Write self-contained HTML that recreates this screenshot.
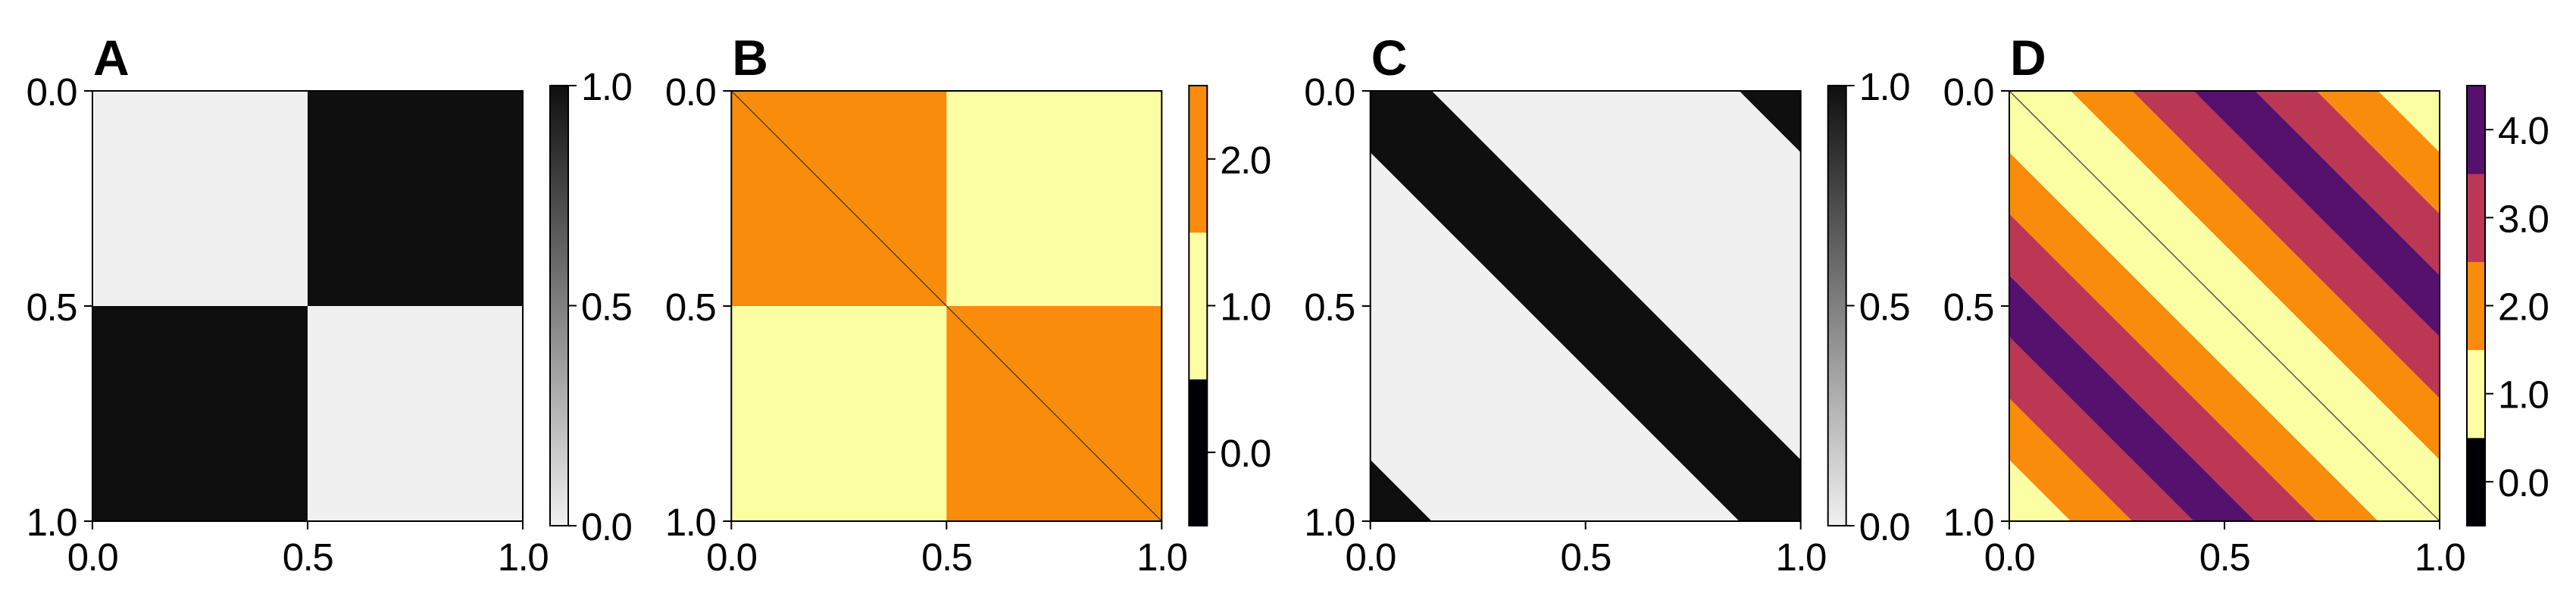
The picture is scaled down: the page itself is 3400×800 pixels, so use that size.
<!DOCTYPE html>
<html><head><meta charset="utf-8">
<style>
html,body{margin:0;padding:0;background:#fff;width:3400px;height:800px;overflow:hidden;}
svg{display:block;}
text{font-family:"Liberation Sans",Arial,sans-serif;}
</style></head>
<body>
<svg id="fig" xmlns="http://www.w3.org/2000/svg" width="3400" height="800" viewBox="0 0 3400 800"></svg>
<script>
// ---- data ----
const matrixA = [[0,1],[1,0]];
const matrixB = [[2,1],[1,2]];
const bandEdgesC = [-1,-6/7,-1/7,1/7,6/7,1];
const bandValuesC = [1,0,1,0,1];
const bandEdgesD = [-1,-6/7,-5/7,-4/7,-3/7,-2/7,-1/7,1/7,2/7,3/7,4/7,5/7,6/7,1];
const bandValuesD = [1,2,3,4,3,2,1,2,3,4,3,2,1];
const axisTicks = [0,0.5,1];
const axisTickLabels = ["0.0","0.5","1.0"];
const greyTicks = [0,0.5,1];
const greyTickLabels = ["0.0","0.5","1.0"];
const catTicksB = [0,1,2];
const catTickLabelsB = ["0.0","1.0","2.0"];
const catTicksD = [0,1,2,3,4];
const catTickLabelsD = ["0.0","1.0","2.0","3.0","4.0"];
const panelLabels = ["A","B","C","D"];

const NS="http://www.w3.org/2000/svg";
const svg=document.getElementById('fig');
function mk(tag,attrs,parent){const e=document.createElementNS(NS,tag);for(const k in attrs)e.setAttribute(k,attrs[k]);(parent||svg).appendChild(e);return e;}

const catColors=["#000004","#fcfea4","#f98c0a","#bc3754","#56106e"];
function greyColor(v){const c=Math.round(240-(240-15)*v);return `rgb(${c},${c},${c})`;}

const TOP=120,SIZE=568,CB_OFF=604,CB_W=24,CB_TOP=113,CB_BOT=694;
const lefts=[122,965.3,1808.7,2652];
const FS=51, LS=-1.5;

function panel(i){
  const L=lefts[i];
  const g=mk('g',{});
  
  
  const sx=v=>L+v*SIZE, sy=v=>TOP+v*SIZE;
  const clip=mk('clipPath',{id:'clip'+i},g);
  mk('rect',{x:L,y:TOP,width:SIZE,height:SIZE},clip);
  const hm=mk('g',{'clip-path':`url(#clip${i})`},g);
  
  
  if(i===0||i===1){
    const M=i===0?matrixA:matrixB;const n=M.length;
    M.forEach((row,r)=>row.forEach((v,c)=>{
      const rc=mk('rect',{x:sx(c/n),y:sy(r/n),width:SIZE/n+0.5,height:SIZE/n+0.5,fill:i===0?greyColor(v):catColors[v]},hm);
      
      
    }));
  } else {
    const E=i===2?bandEdgesC:bandEdgesD, V=i===2?bandValuesC:bandValuesD;
    V.forEach((v,k)=>{
      const d0=E[k],d1=E[k+1];
      const pts=[[-1+d0,-1],[2+d0,2],[2+d1,2],[-1+d1,-1]].map(p=>sx(p[0])+','+sy(p[1])).join(' ');
      const pg=mk('polygon',{points:pts,fill:i===2?greyColor(v):catColors[v]},hm);
      
      
    });
  }
  if(i===1||i===3){
    const dl=mk('line',{x1:sx(0),y1:sy(0),x2:sx(1),y2:sy(1),stroke:'#333',"stroke-width":1.2},g);
    
    
  }
  const fr=mk('rect',{x:L,y:TOP,width:SIZE,height:SIZE,fill:'none',stroke:'#000','stroke-width':2},g);
  
  
  axisTicks.forEach((t,k)=>{
    mk('line',{x1:sx(t),x2:sx(t),y1:TOP+SIZE,y2:TOP+SIZE+11,stroke:'#000','stroke-width':2},g);
    const xt=mk('text',{x:sx(t),y:753,'font-size':FS,'letter-spacing':LS,'text-anchor':'middle'},g);
    xt.textContent=axisTickLabels[k];
    
    
    mk('line',{x1:L-11,x2:L,y1:sy(t),y2:sy(t),stroke:'#000','stroke-width':2},g);
    const yt=mk('text',{x:L-21,y:sy(t)+19,'font-size':FS,'letter-spacing':LS,'text-anchor':'end'},g);
    yt.textContent=axisTickLabels[k];
    
    
  });
  const pl=mk('text',{x:L+1,y:99,'font-size':66,'font-weight':'bold'},g);
  pl.textContent=panelLabels[i];
  
  
  // colorbar
  const cx=L+CB_OFF;
  const cb=mk('g',{},g);
  
  
  let lo,hi,ticks,labels;
  if(i===0||i===2){
    lo=0;hi=1;ticks=greyTicks;labels=greyTickLabels;
    const gid='grad'+i;
    const lg=mk('linearGradient',{id:gid,x1:0,y1:1,x2:0,y2:0},cb);
    for(let s=0;s<=10;s++)mk('stop',{offset:s/10,'stop-color':greyColor(s/10)},lg);
    mk('rect',{x:cx,y:CB_TOP,width:CB_W,height:CB_BOT-CB_TOP,fill:`url(#${gid})`},cb);
  } else {
    ticks=i===1?catTicksB:catTicksD;labels=i===1?catTickLabelsB:catTickLabelsD;
    lo=ticks[0]-0.5;hi=ticks[ticks.length-1]+0.5;
    const cy=v=>CB_BOT-(v-lo)/(hi-lo)*(CB_BOT-CB_TOP);
    ticks.forEach(t=>{
      const r=mk('rect',{x:cx,y:cy(t+0.5),width:CB_W,height:cy(t-0.5)-cy(t+0.5)+0.5,fill:catColors[t]},cb);
      
      
    });
  }
  const cy=v=>CB_BOT-(v-lo)/(hi-lo)*(CB_BOT-CB_TOP);
  mk('rect',{x:cx,y:CB_TOP,width:CB_W,height:CB_BOT-CB_TOP,fill:'none',stroke:'#000','stroke-width':2},cb);
  ticks.forEach((t,k)=>{
    mk('line',{x1:cx+CB_W,x2:cx+CB_W+11,y1:cy(t),y2:cy(t),stroke:'#000','stroke-width':2},cb);
    const ct=mk('text',{x:cx+CB_W+17,y:cy(t)+19,'font-size':FS,'letter-spacing':LS},cb);
    ct.textContent=labels[k];
    
    
  });
}
for(let i=0;i<4;i++)panel(i);
</script>
</body></html>
